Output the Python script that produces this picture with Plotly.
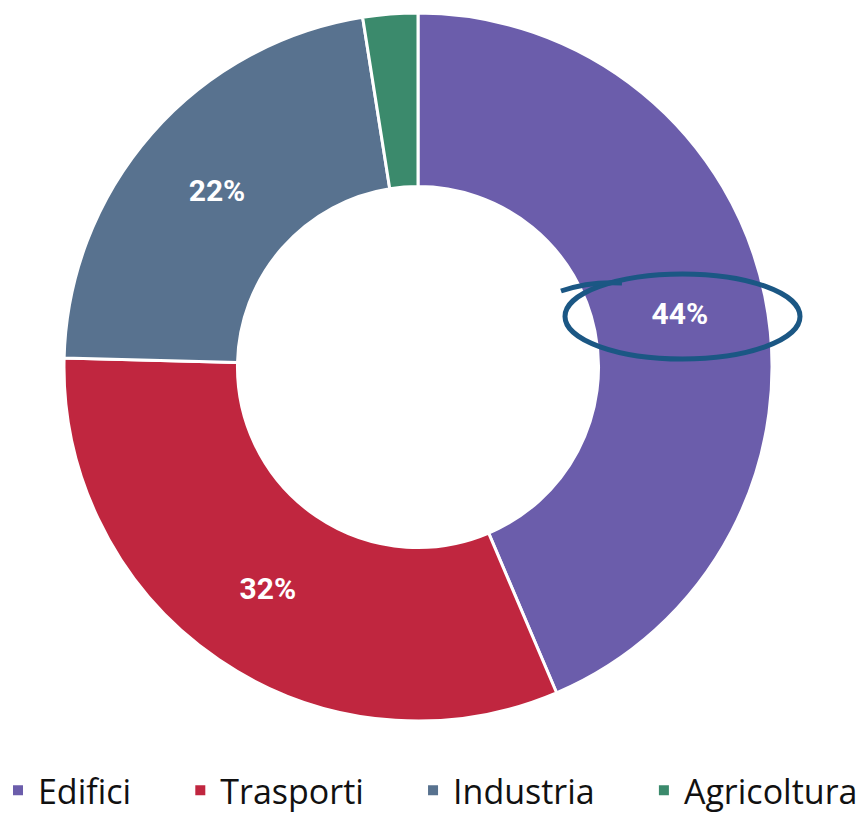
import plotly.graph_objects as go

categories = ["Edifici", "Trasporti", "Industria", "Agricoltura"]
values = [43.6, 31.8, 22.1, 2.5]
labels_text = ["44%", "32%", "22%", ""]
colors = ["#6b5dab", "#c0263f", "#58728f", "#3b8a6c"]

# legend entries padded with non-breaking spaces to widen the gaps
legend_labels = [c + "\u00a0" * 5 for c in categories[:-1]] + [categories[-1]]

W, H = 868, 815
OX, OY = 8, 7  # page offset compensation (px)

def px(x):
    return (x - OX) / W

def py(y):
    return 1 - (y - OY) / H

fig = go.Figure(go.Pie(
    labels=legend_labels,
    values=values,
    text=labels_text,
    texttemplate="%{text}",
    textposition="inside",
    insidetextorientation="horizontal",
    textfont=dict(family="Roboto", size=30, color="white", weight="bold"),
    hole=0.51,
    sort=False,
    direction="clockwise",
    rotation=0,
    marker=dict(colors=colors, line=dict(color="white", width=3)),
    domain=dict(x=[px(64), px(772)], y=[py(720), py(12)]),
    showlegend=True,
))

ell_color = "#1b5784"
fig.add_shape(type="circle", xref="paper", yref="paper",
              x0=px(565), x1=px(800), y0=py(358), y1=py(273),
              line=dict(color=ell_color, width=5))
# hand-drawn tail
def P(x, y):
    return f"{px(x)},{py(y)}"
fig.add_shape(type="path", xref="paper", yref="paper",
              path=f"M {P(561, 290)} Q {P(590, 280)} {P(622, 282)}",
              line=dict(color=ell_color, width=5))

fig.update_layout(
    width=W, height=H,
    margin=dict(l=0, r=0, t=0, b=0, autoexpand=False),
    paper_bgcolor="white",
    plot_bgcolor="white",
    legend=dict(orientation="h", x=0.985, xanchor="right", y=0.004, yanchor="bottom",
                font=dict(family="Open Sans", size=34, color="#111111"),
                itemsizing="constant"),
)

fig.write_html("out.html")
